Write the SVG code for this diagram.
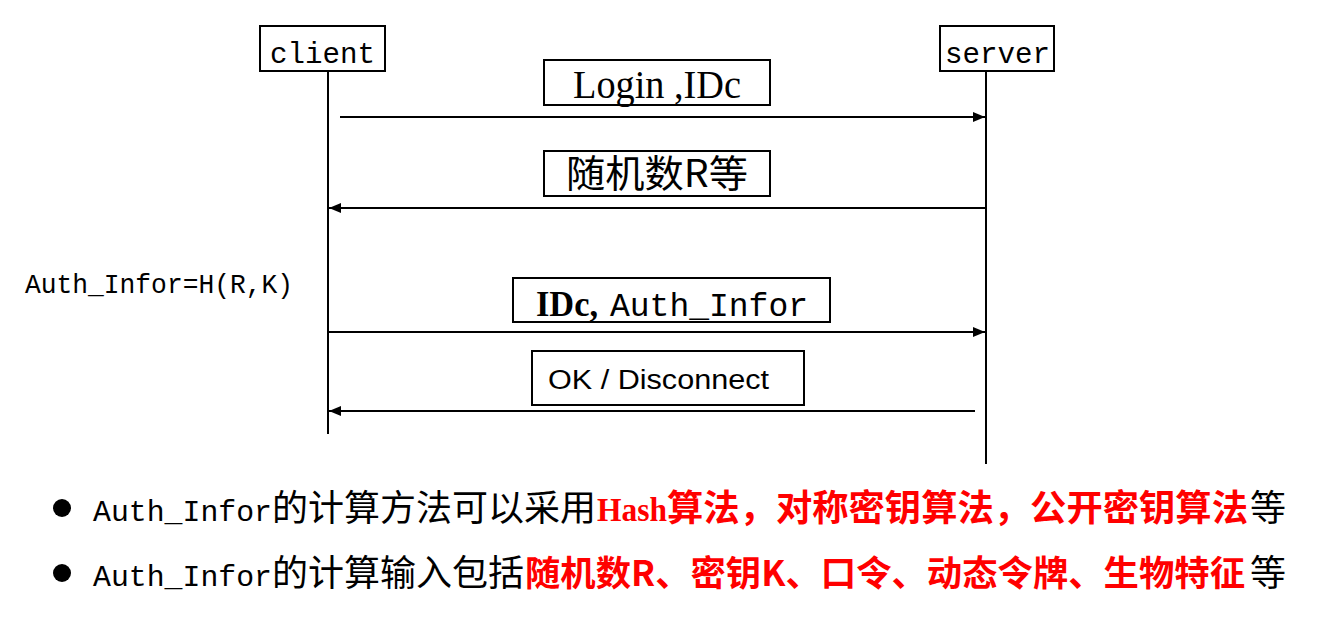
<svg xmlns="http://www.w3.org/2000/svg" width="1332" height="617" viewBox="0 0 1332 617">
<style>
.box{fill:#fff;stroke:#000;stroke-width:2}
.life{stroke:#000;stroke-width:2;fill:none}
.msg{stroke:#000;stroke-width:2;fill:none;marker-end:url(#ah)}
.mono{font-family:"Liberation Mono","DejaVu Sans Mono",monospace;fill:#000}
.serif{font-family:"Liberation Serif","Noto Sans CJK SC",serif;fill:#000}
.cjk{font-family:"Noto Sans CJK SC",sans-serif;fill:#000}
.red{fill:#ff0000;font-weight:bold}
</style>
<defs>
<marker id="ah" viewBox="0 0 12 10" refX="12" refY="5" markerWidth="12" markerHeight="10" markerUnits="userSpaceOnUse" orient="auto">
<path d="M0,0 L12,5 L0,10 z" fill="#000"/>
</marker>
</defs>
<g id="client">
<rect class="box" x="260" y="26" width="125" height="45"/>
<text class="mono" x="270" y="63" font-size="29" textLength="105" lengthAdjust="spacingAndGlyphs">client</text>
</g>
<g id="server">
<rect class="box" x="940" y="26" width="114" height="45"/>
<text class="mono" x="945" y="63" font-size="29" textLength="105" lengthAdjust="spacingAndGlyphs">server</text>
</g>
<g id="lifelines">
<line class="life" x1="328" y1="71" x2="328" y2="434"/>
<line class="life" x1="986" y1="71" x2="986" y2="464"/>
</g>
<g id="connectors">
<line class="msg" x1="340" y1="117" x2="985" y2="117"/>
<line class="msg" x1="986" y1="208" x2="329" y2="208"/>
<line class="msg" x1="328" y1="332" x2="985" y2="332"/>
<line class="msg" x1="975" y1="411" x2="329" y2="411"/>
</g>
<g id="label-login">
<rect class="box" x="544" y="60" width="226" height="45"/>
<text class="serif" x="573" y="98" font-size="39" textLength="168" lengthAdjust="spacingAndGlyphs">Login ,IDc</text>
</g>
<g id="label-random">
<rect class="box" x="544" y="151" width="226" height="45"/>
<text class="cjk" x="566" y="187" font-size="38" textLength="182" lengthAdjust="spacingAndGlyphs">随机数R等</text>
</g>
<g id="label-auth">
<rect class="box" x="513" y="278" width="317" height="44"/>
<text x="536" y="316" font-size="36"><tspan class="serif" font-weight="bold" textLength="62" lengthAdjust="spacingAndGlyphs">IDc,</tspan><tspan class="mono" x="610" font-size="33" textLength="198" lengthAdjust="spacingAndGlyphs">Auth_Infor</tspan></text>
</g>
<g id="label-ok">
<rect class="box" x="532" y="351" width="272" height="54"/>
<text x="548" y="389" font-family="Liberation Sans, Arial, sans-serif" font-size="27" fill="#000" textLength="221" lengthAdjust="spacingAndGlyphs">OK / Disconnect</text>
</g>
<g id="formula">
<text class="mono" x="25" y="293" font-size="28" textLength="268" lengthAdjust="spacingAndGlyphs">Auth_Infor=H(R,K)</text>
</g>
<g id="bullet1">
<circle cx="62" cy="508" r="9" fill="#000"/>
<text y="521" font-size="36"><tspan class="mono" x="93" font-size="30" textLength="179" lengthAdjust="spacingAndGlyphs">Auth_Infor</tspan><tspan class="cjk" x="272">的计算方法可以采用</tspan><tspan class="serif red" x="597" font-size="33" textLength="70" lengthAdjust="spacingAndGlyphs">Hash</tspan><tspan class="cjk red" x="667" textLength="581" lengthAdjust="spacingAndGlyphs">算法，对称密钥算法，公开密钥算法</tspan><tspan class="cjk" x="1250">等</tspan></text>
</g>
<g id="bullet2">
<circle cx="62" cy="573" r="9" fill="#000"/>
<text y="586" font-size="36"><tspan class="mono" x="93" font-size="30" textLength="179" lengthAdjust="spacingAndGlyphs">Auth_Infor</tspan><tspan class="cjk" x="272">的计算输入包括</tspan><tspan class="cjk red" x="525" font-size="35" textLength="720" lengthAdjust="spacingAndGlyphs">随机数R、密钥K、口令、动态令牌、生物特征</tspan><tspan class="cjk" x="1250">等</tspan></text>
</g>
</svg>
